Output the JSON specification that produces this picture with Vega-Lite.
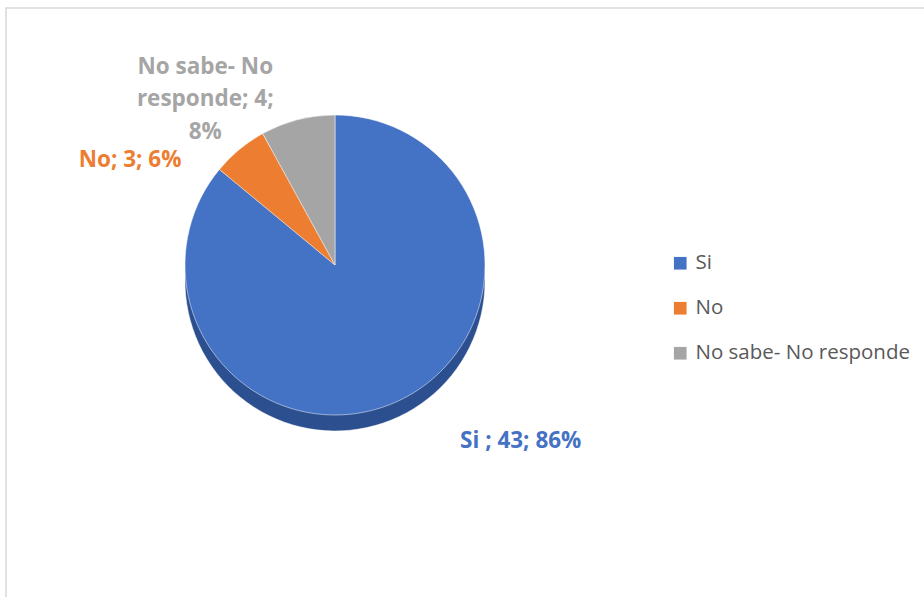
{
  "$schema": "https://vega.github.io/schema/vega-lite/v6.json",
  "width": 930,
  "height": 600,
  "autosize": "none",
  "padding": {"left": 6, "top": 8, "right": 0, "bottom": 0},
  "background": "white",
  "view": {"stroke": "#d9d9d9", "strokeWidth": 1.5},
  "config": {"view": {"stroke": "#d9d9d9", "strokeWidth": 1.5}},
  "data": {
    "values": [
      {"cat": "Si", "n": 43, "orden": 1, "label": "Si ; 43; 86%"},
      {"cat": "No", "n": 3, "orden": 2, "label": "No; 3; 6%"},
      {"cat": "No sabe- No responde", "n": 4, "orden": 3, "label": "No sabe- No\nresponde; 4;\n8%"}
    ]
  },
  "encoding": {
    "theta": {"field": "n", "type": "quantitative", "stack": true},
    "order": {"field": "orden", "type": "quantitative"}
  },
  "layer": [
    {
      "mark": {"type": "arc", "x": 329, "y": 257, "outerRadius": 150, "yOffset": 16, "stroke": "#ffffff", "strokeWidth": 0.5},
      "encoding": {
        "color": {
          "condition": [
            {"test": "datum.cat === 'Si'", "value": "#2c4f8f"},
            {"test": "datum.cat === 'No'", "value": "#a9561f"}
          ],
          "value": "#767676"
        }
      }
    },
    {
      "mark": {"type": "arc", "x": 329, "y": 257, "outerRadius": 150, "stroke": "#ffffff", "strokeWidth": 0.5},
      "encoding": {
        "color": {
          "field": "cat",
          "type": "nominal",
          "scale": {"domain": ["Si", "No", "No sabe- No responde"], "range": ["#4472C4", "#ED7D31", "#A5A5A5"]},
          "legend": {
            "title": null,
            "orient": "none",
            "legendX": 664,
            "legendY": 245,
            "symbolType": "square",
            "symbolSize": 160,
            "symbolStrokeWidth": 0,
            "labelFont": "Open Sans",
            "labelFontSize": 20.5,
            "labelColor": "#595959",
            "rowPadding": 24,
            "labelOffset": 5,
            "labelLimit": 400
          }
        }
      }
    },
    {
      "mark": {"type": "text", "x": 329, "y": 257, "radius": 195, "dx": 42, "align": "left", "baseline": "middle", "font": "Open Sans", "fontSize": 22.5, "fontWeight": "bold", "color": "#4472C4"},
      "encoding": {"text": {"condition": {"test": "datum.cat === 'Si'", "field": "label"}, "value": ""}}
    },
    {
      "mark": {"type": "text", "x": 329, "y": 257, "radius": 175, "dx": -42, "dy": 30, "align": "right", "baseline": "middle", "font": "Open Sans", "fontSize": 22.5, "fontWeight": "bold", "color": "#ED7D31"},
      "encoding": {"text": {"condition": {"test": "datum.cat === 'No'", "field": "label"}, "value": ""}}
    },
    {
      "mark": {"type": "text", "x": 329, "y": 257, "radius": 180, "dx": -85, "dy": -24, "align": "center", "baseline": "middle", "lineBreak": "\n", "lineHeight": 32.5, "font": "Open Sans", "fontSize": 22.5, "fontWeight": "bold", "color": "#A5A5A5"},
      "encoding": {"text": {"condition": {"test": "datum.cat === 'No sabe- No responde'", "field": "label"}, "value": ""}}
    }
  ]
}
